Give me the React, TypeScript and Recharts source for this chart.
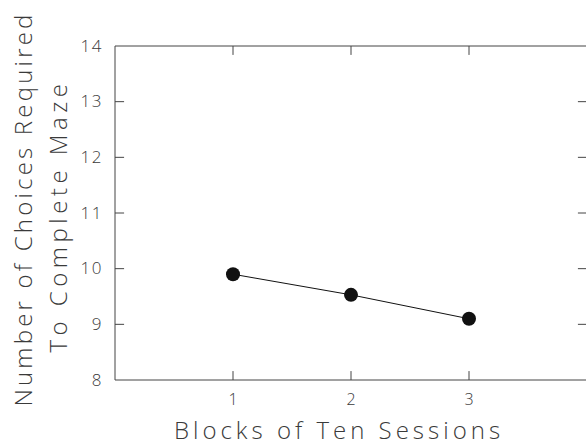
import { LineChart, Line, XAxis, YAxis, Label, ReferenceLine } from 'recharts';

const blocks = [1, 2, 3];
const choices = [9.9, 9.53, 9.1];
const xTicks = [1, 2, 3];
const yTicks = [8, 9, 10, 11, 12, 13, 14];

const data = blocks.map((b, i) => ({ block: b, choices: choices[i] }));

const FONT = '"Open Sans", sans-serif';
const INK = '#3a3a3a';
const AXIS = '#444';

const X_DOMAIN = [0, 4];
const Y_DOMAIN = [8, 14];
// inward tick length (~9px) expressed in axis units
const X_TICK = 0.077;
const Y_TICK = 0.16;

const YTitle = () => (
  <g fontFamily={FONT} fontWeight={300} fill={INK} fontSize={24}>
    <text x={22} y={209} transform="rotate(-90, 22, 209)" textAnchor="middle" dominantBaseline="central" letterSpacing={3.2}>
      Number of Choices Required
    </text>
    <text x={57} y={216} transform="rotate(-90, 57, 216)" textAnchor="middle" dominantBaseline="central" letterSpacing={4.5}>
      To Complete Maze
    </text>
  </g>
);

const XTitle = () => (
  <text x={339} y={429} textAnchor="middle" dominantBaseline="central" fontFamily={FONT} fontWeight={300} fill={INK} fontSize={24} letterSpacing={4}>
    Blocks of Ten Sessions
  </text>
);

const BottomLabel = (props: any) => (
  <text x={props.x} y={399} textAnchor="middle" dominantBaseline="central" fontFamily={FONT} fontWeight={300} fontSize={16} fill={INK}>
    {props.payload.value}
  </text>
);

const LeftLabel = (props: any) => (
  <text x={103} y={props.y - 1} textAnchor="end" dominantBaseline="central" fontFamily={FONT} fontWeight={300} fontSize={17} letterSpacing={1.5} fill={INK}>
    {props.payload.value}
  </text>
);

export default function App() {
  return (
    <div style={{ position: 'absolute', left: 0, top: 0 }}>
      <LineChart width={600} height={446} data={data} margin={{ top: 46, right: 13, bottom: 0, left: 0 }}>
        <XAxis
          dataKey="block"
          type="number"
          domain={X_DOMAIN}
          ticks={xTicks}
          height={66}
          tickLine={false}
          tick={<BottomLabel />}
          stroke={AXIS}
        >
          <Label content={<XTitle />} />
        </XAxis>
        <YAxis
          type="number"
          domain={Y_DOMAIN}
          ticks={yTicks}
          width={115}
          tickLine={false}
          tick={<LeftLabel />}
          stroke={AXIS}
        >
          <Label content={<YTitle />} />
        </YAxis>
        <ReferenceLine y={Y_DOMAIN[1]} stroke={AXIS} />
        {xTicks.map((v) => (
          <ReferenceLine key={`xb${v}`} segment={[{ x: v, y: Y_DOMAIN[0] }, { x: v, y: Y_DOMAIN[0] + Y_TICK }]} stroke={AXIS} />
        ))}
        {xTicks.map((v) => (
          <ReferenceLine key={`xt${v}`} segment={[{ x: v, y: Y_DOMAIN[1] - Y_TICK }, { x: v, y: Y_DOMAIN[1] }]} stroke={AXIS} />
        ))}
        {yTicks.slice(1, -1).map((v) => (
          <ReferenceLine key={`yl${v}`} segment={[{ x: X_DOMAIN[0], y: v }, { x: X_DOMAIN[0] + X_TICK, y: v }]} stroke={AXIS} />
        ))}
        {yTicks.slice(1, -1).map((v) => (
          <ReferenceLine key={`yr${v}`} segment={[{ x: X_DOMAIN[1] - X_TICK, y: v }, { x: X_DOMAIN[1], y: v }]} stroke={AXIS} />
        ))}
        <Line
          dataKey="choices"
          type="linear"
          stroke="#111"
          strokeWidth={1}
          dot={{ r: 7, fill: '#111', stroke: '#111', strokeWidth: 0 }}
          isAnimationActive={false}
        />
      </LineChart>
    </div>
  );
}
